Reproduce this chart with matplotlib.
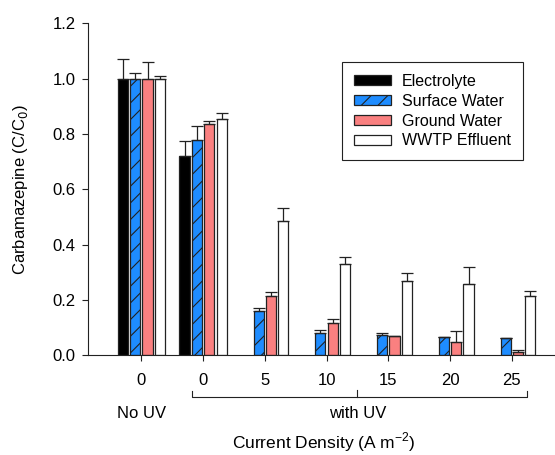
import matplotlib
matplotlib.use("Agg")
import matplotlib.pyplot as plt
import numpy as np

plt.rcParams['font.family'] = ['Liberation Sans', 'DejaVu Sans']
plt.rcParams['hatch.linewidth'] = 0.8

# data
tick_labels = ['0', '0', '5', '10', '15', '20', '25']
series = ['Electrolyte', 'Surface Water', 'Ground Water', 'WWTP Effluent']

electrolyte = [1.00, 0.722, np.nan, np.nan, np.nan, np.nan, np.nan]
electrolyte_err = [0.07, 0.053, 0, 0, 0, 0, 0]
surface = [1.00, 0.779, 0.160, 0.079, 0.074, 0.066, 0.062]
surface_err = [0.02, 0.05, 0.012, 0.012, 0.006, 0.0, 0.002]
ground = [1.00, 0.835, 0.215, 0.118, 0.070, 0.048, 0.013]
ground_err = [0.06, 0.011, 0.013, 0.012, 0.0, 0.039, 0.005]
effluent = [1.00, 0.854, 0.485, 0.331, 0.270, 0.259, 0.214]
effluent_err = [0.01, 0.023, 0.048, 0.024, 0.028, 0.059, 0.019]

values = [electrolyte, surface, ground, effluent]
errors = [electrolyte_err, surface_err, ground_err, effluent_err]
colors = ['black', '#1E8CFF', '#FA8080', 'white']
hatches = [None, '//', None, None]

fig = plt.figure(figsize=(5.55, 4.55), dpi=100)
ax = fig.add_axes([0.159, 0.219, 0.841, 0.730])

x = np.arange(len(tick_labels))
w = 0.165
step = 0.2
for i in range(4):
    off = (i - 1.5) * step
    v = np.array(values[i], dtype=float)
    e = np.array(errors[i], dtype=float)
    ax.bar(x + off, v, w, color=colors[i], edgecolor='#222222', linewidth=0.9,
           hatch=hatches[i], label=series[i], zorder=2)
    ax.errorbar(x + off, v, yerr=[np.zeros_like(e), e], fmt='none',
                ecolor='#222222', elinewidth=0.9, capsize=4, capthick=0.9, zorder=3)

ax.set_xlim(-0.86, 6.7)
ax.set_ylim(0, 1.2)
ax.set_yticks(np.arange(0, 1.21, 0.2))
ax.set_yticklabels(['%.1f' % t for t in np.arange(0, 1.21, 0.2)])
ax.set_xticks(x)
ax.set_xticklabels(tick_labels)
ax.tick_params(labelsize=12, length=4, width=0.8, color='#222222')
ax.tick_params(axis='x', pad=9)
ax.tick_params(axis='y', pad=5)
for s in ['top', 'right']:
    ax.spines[s].set_visible(False)
for s in ['left', 'bottom']:
    ax.spines[s].set_linewidth(0.8)
    ax.spines[s].set_color('#222222')

ax.set_ylabel('Carbamazepine (C/C$_0$)', fontsize=12)
ax.yaxis.set_label_coords(-0.124, 0.5)

# group labels and bracket
tr = ax.get_xaxis_transform()
left, right = 1 - 0.18, 6 + 0.24
mid = (1 + 6) / 2
ax.plot([left, left, right, right], [-0.107, -0.125, -0.125, -0.107],
        transform=tr, color='#222222', lw=0.8, clip_on=False)
ax.plot([mid, mid], [-0.125, -0.105], transform=tr, color='#222222', lw=0.8, clip_on=False)
ax.text(mid, -0.174, 'with UV', transform=tr, ha='center', va='center', fontsize=12)
ax.text(0, -0.174, 'No UV', transform=tr, ha='center', va='center', fontsize=12)
ax.text(2.95, -0.262, 'Current Density (A m$^{\\mathregular{-2}}$)', transform=tr,
        ha='center', va='center', fontsize=12.5)

leg = ax.legend(loc='upper left', bbox_to_anchor=(0.544, 0.883), borderaxespad=0,
                fontsize=11.5, fancybox=False, edgecolor='#222222', framealpha=1,
                handlelength=2.3, handleheight=0.6, handletextpad=0.7,
                borderpad=0.75, labelspacing=0.3)
leg.get_frame().set_linewidth(0.8)

fig.savefig('out.png', dpi=100)
